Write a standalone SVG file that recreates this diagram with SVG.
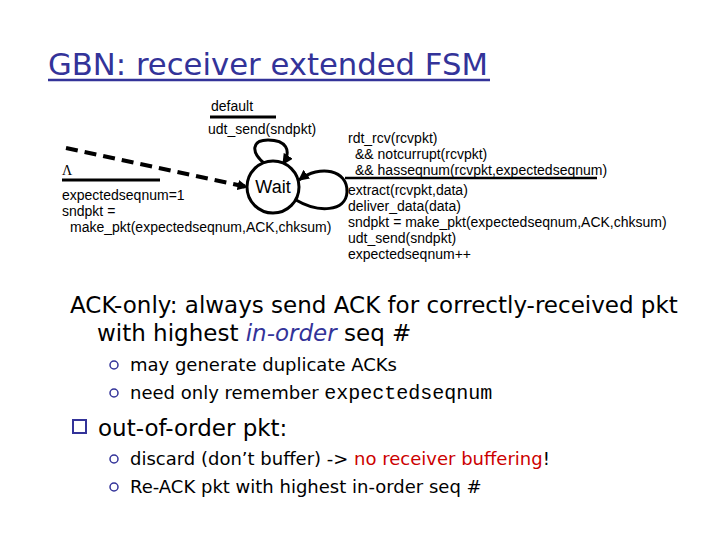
<svg xmlns="http://www.w3.org/2000/svg" width="720" height="540" viewBox="0 0 720 540">
<defs>
<style>
.lbl{font-family:"Liberation Sans",Arial,sans-serif;font-size:14px;fill:#000}
.big{font-family:"DejaVu Sans","Comic Sans MS",sans-serif;font-size:23px;fill:#000}
.sub{font-family:"DejaVu Sans","Comic Sans MS",sans-serif;font-size:18px;fill:#000}
.ln{stroke:#000;stroke-width:3;fill:none}
.blt{fill:#fff;stroke:#333399;stroke-width:1.5}
</style>
<marker id="ah" viewBox="0 0 10 10" refX="9" refY="5" markerWidth="3.6" markerHeight="3.6" orient="auto" markerUnits="strokeWidth">
<path d="M0,0 L10,5 L0,10 Z" fill="#000"/>
</marker>
<marker id="ahd" viewBox="0 0 10 10" refX="9" refY="5" markerWidth="2.6" markerHeight="2.6" orient="auto" markerUnits="strokeWidth">
<path d="M0,0 L10,5 L0,10 Z" fill="#000"/>
</marker>
</defs>
<rect width="720" height="540" fill="#fff"/>
<g id="title">
<text x="48" y="75" font-family="DejaVu Sans,'Comic Sans MS',sans-serif" font-size="30.7" fill="#333399">GBN: receiver extended FSM</text>
<line x1="48" y1="80" x2="490" y2="80" stroke="#333399" stroke-width="2.5"/>
</g>
<g id="connectors">
<path d="M66 148 L247 187" stroke="#000" stroke-width="4" stroke-dasharray="12 7" fill="none" marker-end="url(#ahd)"/>
<path class="ln" d="M265 164 C250 152 252 140 268 140 C286 140 292 150 283 164" marker-end="url(#ah)"/>
<path class="ln" d="M296 200 C318 213 346 212 347 192 C348 170 320 164 299 180" marker-end="url(#ah)"/>
</g>
<g id="wait">
<circle cx="273" cy="187" r="26" fill="#fff" stroke="#000" stroke-width="3"/>
<text x="273" y="193" text-anchor="middle" font-family="Liberation Sans,Arial,sans-serif" font-size="18">Wait</text>
</g>
<g id="label-default">
<text class="lbl" x="211" y="111">default</text>
<line x1="210" y1="117" x2="276" y2="117" stroke="#000" stroke-width="3"/>
<text class="lbl" x="208" y="134">udt_send(sndpkt)</text>
</g>
<g id="label-init">
<text x="62" y="175" font-family="Liberation Serif,serif" font-size="14">Λ</text>
<line x1="62" y1="180" x2="160" y2="180" stroke="#000" stroke-width="3"/>
<text class="lbl" x="62" y="200">expectedseqnum=1</text>
<text class="lbl" x="62" y="216">sndpkt =</text>
<text class="lbl" x="70" y="232">make_pkt(expectedseqnum,ACK,chksum)</text>
</g>
<g id="label-rcv">
<text class="lbl" x="348" y="143">rdt_rcv(rcvpkt)</text>
<text class="lbl" x="355" y="159">&amp;&amp; notcurrupt(rcvpkt)</text>
<text class="lbl" x="355" y="175">&amp;&amp; hasseqnum(rcvpkt,expectedseqnum)</text>
<line x1="345" y1="178" x2="597" y2="178" stroke="#000" stroke-width="2.5"/>
<text class="lbl" x="348" y="195">extract(rcvpkt,data)</text>
<text class="lbl" x="348" y="211">deliver_data(data)</text>
<text class="lbl" x="348" y="227">sndpkt = make_pkt(expectedseqnum,ACK,chksum)</text>
<text class="lbl" x="348" y="243">udt_send(sndpkt)</text>
<text class="lbl" x="348" y="259">expectedseqnum++</text>
</g>
<g id="notes">
<text class="big" x="70" y="313">ACK-only: always send ACK for correctly-received pkt</text>
<text class="big" x="97" y="341">with highest <tspan fill="#333399" font-style="italic">in-order</tspan> seq #</text>
<circle class="blt" cx="114" cy="365" r="4"/>
<text class="sub" x="130" y="371">may generate duplicate ACKs</text>
<circle class="blt" cx="114" cy="393" r="4"/>
<text class="sub" x="130" y="399">need only remember <tspan font-family="Liberation Mono,Courier New,monospace" font-size="20">expectedseqnum</tspan></text>
<rect x="73" y="420" width="13" height="13" fill="#fff" stroke="#333399" stroke-width="2"/>
<text class="big" x="98" y="436">out-of-order pkt:</text>
<circle class="blt" cx="114" cy="459" r="4"/>
<text class="sub" x="130" y="465">discard (don’t buffer) -&gt; <tspan fill="#cc0000">no receiver buffering</tspan>!</text>
<circle class="blt" cx="114" cy="487" r="4"/>
<text class="sub" x="130" y="493">Re-ACK pkt with highest in-order seq #</text>
</g>
</svg>
